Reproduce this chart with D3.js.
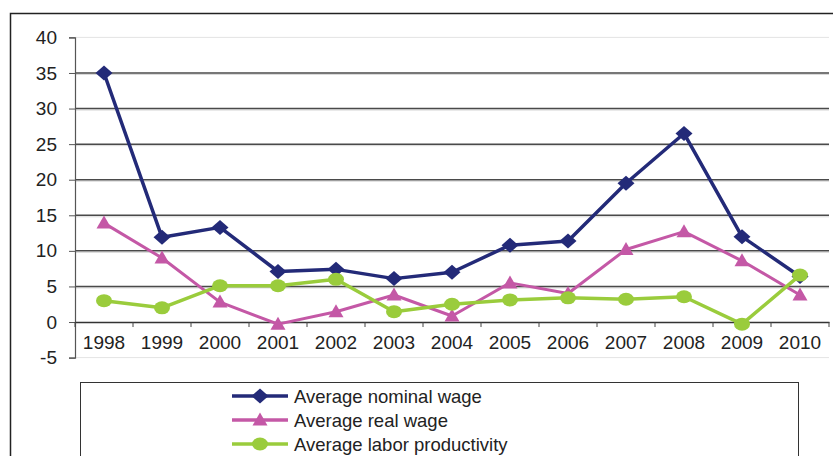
<!DOCTYPE html>
<html><head><meta charset="utf-8">
<script src="https://cdn.jsdelivr.net/npm/d3@7"></script>
<style>body{margin:0;background:#fff}svg{display:block}</style>
</head><body>
<script>
const years = ["1998","1999","2000","2001","2002","2003","2004","2005","2006","2007","2008","2009","2010"];
const nominalWage = [35, 11.9, 13.3, 7.1, 7.4, 6.1, 7.0, 10.8, 11.4, 19.5, 26.5, 12.0, 6.4];
const realWage = [13.9, 9.0, 2.8, -0.3, 1.45, 3.8, 0.85, 5.5, 4.0, 10.2, 12.7, 8.6, 3.8];
const laborProductivity = [3.0, 2.0, 5.1, 5.1, 6.0, 1.45, 2.5, 3.1, 3.4, 3.2, 3.55, -0.3, 6.6];
const yTicks = [-5, 0, 5, 10, 15, 20, 25, 30, 35, 40];
const seriesNames = ["Average nominal wage", "Average real wage", "Average labor productivity"];
const seriesColors = ["#232a78", "#c458a6", "#9acc3c"];
const seriesMarkers = ["diamond", "triangle", "circle"];

const W = 833, H = 456;
const svg = d3.select("body").append("svg").attr("width", W).attr("height", H);
const font = "Liberation Sans, Arial, sans-serif";

// outer frame
svg.append("rect").attr("x", 10.5).attr("y", 13.5).attr("width", 840).attr("height", 460)
  .attr("fill", "none").attr("stroke", "#222").attr("stroke-width", 1.5);

const left = 75, right = 829;
const x = d3.scaleBand().domain(years).range([left, right]);
const y = d3.scaleLinear().domain([-5, 40]).range([357.6, 37.4]);

// gridlines
yTicks.forEach(t => {
  if (t === 0) return;
  const light = (t === 40 || t === -5);
  if (!light) {
    svg.append("line").attr("x1", left).attr("x2", right).attr("y1", y(t) + 1.5).attr("y2", y(t) + 1.5)
      .attr("stroke", "#d8d8d8").attr("stroke-width", 1);
  }
  svg.append("line").attr("x1", left).attr("x2", right).attr("y1", y(t)).attr("y2", y(t))
    .attr("stroke", light ? "#e4e4e4" : "#4a4a4a").attr("stroke-width", light ? 1 : 1.5);
});

// y axis
const yAxis = d3.axisLeft(y).tickValues(yTicks).tickSize(6).tickPadding(12).tickFormat(d => String(d));
const gy = svg.append("g").attr("transform", `translate(${left},0)`).call(yAxis);
gy.select(".domain").attr("stroke", "#555").attr("stroke-width", 1.2);
gy.selectAll(".tick line").attr("stroke", "#555");
gy.selectAll("text").attr("font-family", font).attr("font-size", 19).attr("fill", "#222");

// x axis at zero
const xAxis = d3.axisBottom(x).tickSize(0).tickPadding(13);
const gx = svg.append("g").attr("transform", `translate(0,${y(0)})`).call(xAxis);
gx.select(".domain").attr("stroke", "#333").attr("stroke-width", 1.5);
gx.selectAll("text").attr("font-family", font).attr("font-size", 19).attr("fill", "#222");
const bounds = years.map(d => x(d)).concat([right]);
gx.selectAll(".bt").data(bounds).enter().append("line")
  .attr("x1", d => d).attr("x2", d => d).attr("y1", 0).attr("y2", 5)
  .attr("stroke", "#444").attr("stroke-width", 1);

const cx = d => x(d) + x.bandwidth() / 2;
function marker(g, type, px, py, color) {
  if (type === "diamond") {
    g.append("path").attr("d", `M${px},${py-7.5}L${px+8.5},${py}L${px},${py+7.5}L${px-8.5},${py}Z`).attr("fill", color);
  } else if (type === "triangle") {
    g.append("path").attr("d", `M${px},${py-7.5}L${px+7.5},${py+5.5}L${px-7.5},${py+5.5}Z`).attr("fill", color);
  } else {
    g.append("ellipse").attr("cx", px).attr("cy", py).attr("rx", 8).attr("ry", 6.5).attr("fill", color);
  }
}

const order = [0, 1, 2];
order.forEach(i => {
  const vals = [nominalWage, realWage, laborProductivity][i];
  const line = d3.line().x((d, j) => cx(years[j])).y(d => y(d));
  const g = svg.append("g");
  g.append("path").attr("d", line(vals)).attr("fill", "none").attr("stroke", seriesColors[i])
    .attr("stroke-width", i === 1 ? 3 : 3.5).attr("stroke-linejoin", "round");
  vals.forEach((v, j) => marker(g, seriesMarkers[i], cx(years[j]), y(v), seriesColors[i]));
});

// legend
svg.append("rect").attr("x", 80.5).attr("y", 382.5).attr("width", 718).attr("height", 100)
  .attr("fill", "#fff").attr("stroke", "#333").attr("stroke-width", 1);
seriesNames.forEach((name, i) => {
  const ly = 396 + i * 24;
  const g = svg.append("g");
  g.append("line").attr("x1", 232).attr("x2", 288).attr("y1", ly).attr("y2", ly)
    .attr("stroke", seriesColors[i]).attr("stroke-width", 3.5);
  marker(g, seriesMarkers[i], 260, ly, seriesColors[i]);
  g.append("text").attr("x", 294).attr("y", ly).attr("dy", "0.36em")
    .attr("font-family", font).attr("font-size", 18.5).attr("fill", "#222").text(name);
});
</script>
</body></html>
